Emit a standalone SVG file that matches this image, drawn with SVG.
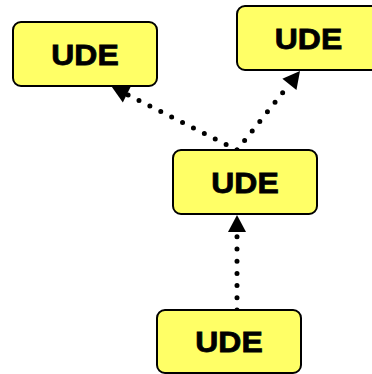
<svg xmlns="http://www.w3.org/2000/svg" width="372" height="374" viewBox="0 0 372 374">
  <style>
    .box { fill: #FFFF66; stroke: #000; stroke-width: 2; }
    .lbl { font-family: "Liberation Sans", Arial, sans-serif; font-weight: bold; font-size: 29px; fill: #000; stroke: #000; stroke-width: 0.8; text-anchor: middle; }
    .link { fill: none; stroke: #000; stroke-width: 5; stroke-linecap: round; stroke-dasharray: 0 12.2; }
  </style>
  <defs>
    <marker id="head" markerUnits="userSpaceOnUse" markerWidth="18" markerHeight="19" refX="0" refY="9" orient="auto" overflow="visible">
      <path d="M0,0 L17,9 L0,18 Z" fill="#000"/>
    </marker>
  </defs>

  <g id="connectors">
    <path class="link" d="M237,310 L237,232" marker-end="url(#head)"/>
    <path class="link" d="M237,150 L126.9,94.4" marker-end="url(#head)"/>
    <path class="link" d="M237,150 L289.4,84.3" marker-end="url(#head)"/>
  </g>

  <g id="ude-top-left">
    <rect class="box" x="13" y="22" width="144" height="64" rx="8"/>
    <text class="lbl" transform="translate(85,64.6) scale(1.1,1)">UDE</text>
  </g>
  <g id="ude-top-right">
    <rect class="box" x="237" y="6" width="144" height="64" rx="8"/>
    <text class="lbl" transform="translate(308.5,48.6) scale(1.1,1)">UDE</text>
  </g>
  <g id="ude-middle">
    <rect class="box" x="173" y="150" width="144" height="64" rx="8"/>
    <text class="lbl" transform="translate(245,192.6) scale(1.1,1)">UDE</text>
  </g>
  <g id="ude-bottom">
    <rect class="box" x="157" y="310" width="144" height="63" rx="8"/>
    <text class="lbl" transform="translate(229,352.2) scale(1.1,1)">UDE</text>
  </g>
</svg>
